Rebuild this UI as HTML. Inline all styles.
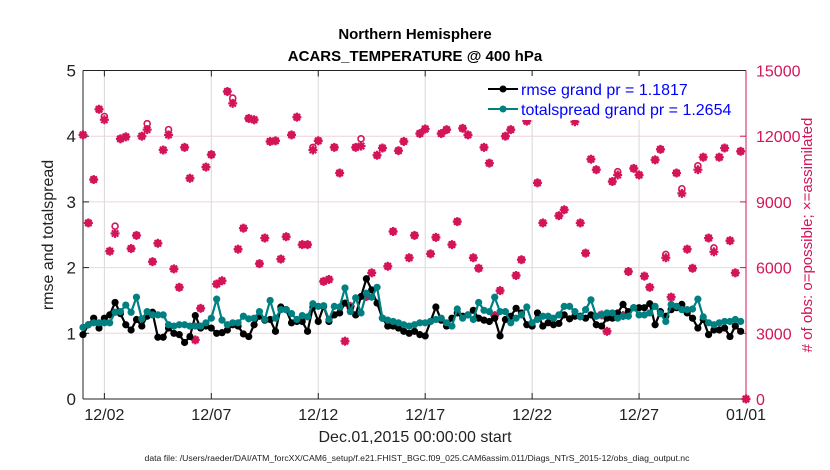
<!DOCTYPE html>
<html><head><meta charset="utf-8"><style>
body{margin:0;background:#fff}
svg{display:block;font-family:"Liberation Sans",Arial,sans-serif}
</style></head><body>
<svg id="chart" width="830" height="470" viewBox="0 0 830 470">
<rect width="830" height="470" fill="#fff"/>
<text x="415" y="39" text-anchor="middle" font-size="15" font-weight="bold">Northern Hemisphere</text>
<text x="415" y="61" text-anchor="middle" font-size="15" font-weight="bold">ACARS_TEMPERATURE @ 400 hPa</text>
<g id="grid"></g>
<g id="axes"></g>
<g id="marks"></g>
<text transform="translate(53,235) rotate(-90)" text-anchor="middle" font-size="16" fill="#222">rmse and totalspread</text>
<text transform="translate(812,235) rotate(-90)" text-anchor="middle" font-size="15" fill="#d41459"># of obs: o=possible; ×=assimilated</text>
<text x="415" y="442" text-anchor="middle" font-size="16" fill="#222">Dec.01,2015 00:00:00 start</text>
<text x="417" y="461" text-anchor="middle" font-size="8.7" fill="#222">data file: /Users/raeder/DAI/ATM_forcXX/CAM6_setup/f.e21.FHIST_BGC.f09_025.CAM6assim.011/Diags_NTrS_2015-12/obs_diag_output.nc</text>
<g>
<rect x="481" y="76" width="225" height="44" fill="#fff"/>
<line x1="488" y1="89" x2="518" y2="89" stroke="#000" stroke-width="2"/>
<circle cx="503" cy="89" r="3.5" fill="#000"/>
<text x="521" y="95" font-size="16" fill="#0000ff">rmse grand pr = 1.1817</text>
<line x1="488" y1="109" x2="518" y2="109" stroke="#008080" stroke-width="2"/>
<circle cx="503" cy="109" r="3.5" fill="#008080"/>
<text x="521" y="115" font-size="16" fill="#0000ff">totalspread grand pr = 1.2654</text>
</g>
</svg>
<script>
const rmse = [0.98,1.13,1.23,1.08,1.23,1.28,1.47,1.30,1.13,1.05,1.21,1.11,1.26,1.32,0.94,0.94,1.08,1.00,0.98,0.86,0.95,1.27,1.08,1.11,1.08,1.00,1.01,1.05,1.13,1.11,
0.99,0.95,1.13,1.26,1.20,1.21,1.03,1.40,1.36,1.16,1.18,1.18,1.03,1.40,1.18,1.41,1.18,1.28,1.31,1.46,1.39,1.28,1.56,1.83,1.66,1.46,1.23,1.11,1.11,1.08,1.03,1.00,
1.03,0.98,0.96,1.18,1.40,1.20,1.11,1.23,1.31,1.26,1.28,1.35,1.23,1.20,1.18,1.23,0.96,1.21,1.26,1.38,1.31,1.13,1.11,1.31,1.11,1.16,1.13,1.15,1.28,1.22,1.26,
1.26,1.23,1.28,1.13,1.11,1.23,1.23,1.31,1.44,1.33,1.39,1.39,1.39,1.45,1.13,1.33,1.26,1.36,1.39,1.44,1.31,1.23,1.08,1.21,0.98,1.05,1.05,1.08,0.95,1.11,1.03];
const spread = [1.09,1.13,1.16,1.16,1.16,1.16,1.32,1.33,1.43,1.32,1.55,1.22,1.33,1.28,1.28,1.28,1.13,1.11,1.13,1.13,1.11,1.11,1.11,1.16,1.23,1.52,1.20,1.13,1.16,1.16,
1.26,1.22,1.23,1.33,1.21,1.50,1.23,1.36,1.36,1.30,1.21,1.27,1.25,1.45,1.41,1.42,1.21,1.41,1.40,1.69,1.33,1.54,1.31,1.61,1.55,1.70,1.23,1.20,1.18,1.16,1.13,1.11,
1.13,1.16,1.16,1.18,1.21,1.23,1.16,1.11,1.37,1.23,1.28,1.21,1.47,1.35,1.33,1.55,1.33,1.33,1.16,1.23,1.28,1.40,1.16,1.21,1.26,1.26,1.23,1.28,1.41,1.41,1.33,
1.25,1.36,1.51,1.26,1.28,1.31,1.31,1.23,1.26,1.26,1.39,1.28,1.28,1.31,1.41,1.30,1.18,1.44,1.41,1.36,1.36,1.37,1.52,1.25,1.16,1.13,1.16,1.18,1.18,1.21,1.18];
const obsAssim = [12060,8040,10020,13230,12750,6750,7560,11880,11970,6870,7470,12000,12300,6270,7110,11370,12060,5940,5100,11490,10080,2700,4140,10590,11160,5250,5400,14040,13500,
6840,7800,12810,12750,6180,7350,11760,11790,6390,7410,12060,12870,7050,7050,11370,11790,5370,5460,11490,10320,2640,4230,11490,11550,4680,5760,11130,11460,6060,7650,11340,11760,
6450,7470,12120,12330,6630,7380,12120,12300,7050,8100,12360,12060,6450,5970,11490,10770,3810,4950,12000,12300,5640,6360,12690,13650,9870,8040,13500,13680,8370,8640,13170,12660,
8040,6660,10950,10470,3840,3090,9930,10230,3810,5820,10530,10230,5610,5100,10920,11400,6450,4650,10320,9390,6840,5970,10470,11040,7350,6720,11040,11460,7230,5760,11310,0];
const obsPoss = [12060,8040,10020,13230,12900,6750,7890,11880,11970,6870,7470,12000,12570,6270,7110,11370,12300,5940,5100,11490,10080,2700,4140,10590,11160,5250,5400,14040,13740,
6840,7800,12810,12750,6180,7350,11760,11790,6390,7410,12060,12870,7050,7050,11490,11790,5370,5460,11490,10320,2640,4230,11490,11880,4680,5760,11130,11460,6060,7650,11340,11760,
6450,7470,12120,12330,6630,7380,12120,12300,7050,8100,12360,12060,6450,5970,11490,10770,3810,4950,12000,12300,5640,6360,12690,13650,9870,8040,13620,13680,8370,8640,13170,12900,
8040,6660,10950,10470,3840,3090,9930,10380,3810,5820,10530,10230,5610,5100,10920,11400,6600,4650,10320,9600,6840,5970,10650,11040,7350,6900,11040,11460,7230,5760,11310,0];
const stepDays = 0.25;
const leftTicks = [0,1,2,3,4,5];
const rightTicks = [0,3000,6000,9000,12000,15000];
const xTickDays = [1,6,11,16,21,26,31];
const xTickLabels = ["12/02","12/07","12/12","12/17","12/22","12/27","01/01"];

const L=83,R=746,T=70.5,B=399,NS="http://www.w3.org/2000/svg";
const xS=d=>L+(d/31)*(R-L);
const yL=v=>B-(v/5)*(B-T);
const yR=v=>B-(v/15000)*(B-T);
const RED="#d41459";
function mk(tag,attrs,parent){const e=document.createElementNS(NS,tag);for(const k in attrs)e.setAttribute(k,attrs[k]);parent.appendChild(e);return e;}
const grid=document.getElementById('grid'),axes=document.getElementById('axes'),marks=document.getElementById('marks');

xTickDays.forEach((d,i)=>{
  const g=mk('line',{x1:xS(d),x2:xS(d),y1:T,y2:B,stroke:'#d8d8d8','stroke-width':1},grid);
  
  
  mk('line',{x1:xS(d),x2:xS(d),y1:B,y2:B-6,stroke:'#222'},axes);
  mk('line',{x1:xS(d),x2:xS(d),y1:T,y2:T+6,stroke:'#222'},axes);
  const t=mk('text',{x:xS(d),y:420,'text-anchor':'middle','font-size':16,fill:'#222'},axes);
  t.textContent=xTickLabels[i];
  
  
});
rightTicks.forEach(v=>{
  const g=mk('line',{x1:L,x2:R,y1:yR(v),y2:yR(v),stroke:'#f0d4de','stroke-width':1},grid);
  
  
  mk('line',{x1:R-6,x2:R,y1:yR(v),y2:yR(v),stroke:RED},axes);
  const t=mk('text',{x:756,y:yR(v)+6,'font-size':16,fill:RED},axes);
  t.textContent=v;
  
  
});
leftTicks.forEach(v=>{
  mk('line',{x1:L,x2:L+6,y1:yL(v),y2:yL(v),stroke:'#222'},axes);
  const t=mk('text',{x:76,y:yL(v)+6,'text-anchor':'end','font-size':17,fill:'#222'},axes);
  t.textContent=v;
  
  
});
mk('line',{x1:L,x2:R,y1:T,y2:T,stroke:'#222'},axes);
mk('line',{x1:L,x2:R,y1:B,y2:B,stroke:'#222'},axes);
mk('line',{x1:L,x2:L,y1:T,y2:B,stroke:'#222'},axes);
mk('line',{x1:R,x2:R,y1:T,y2:B,stroke:RED},axes);

obsPoss.forEach((v,i)=>{
  const c=mk('circle',{cx:xS(i*stepDays),cy:yR(v),r:3,fill:'none',stroke:RED,'stroke-width':1.6},marks);
  
  
});
obsAssim.forEach((v,i)=>{
  const x=xS(i*stepDays),y=yR(v);
  const g=mk('g',{stroke:RED,'stroke-width':2.2},marks);
  
  
  mk('circle',{cx:x,cy:y,r:2.5,fill:RED,stroke:'none'},g);
  mk('line',{x1:x-4.5,x2:x+4.5,y1:y,y2:y},g);
  mk('line',{x1:x,x2:x,y1:y-4.5,y2:y+4.5},g);
  mk('line',{x1:x-3.2,x2:x+3.2,y1:y-3.2,y2:y+3.2},g);
  mk('line',{x1:x-3.2,x2:x+3.2,y1:y+3.2,y2:y-3.2},g);
});
function series(arr,color,name){
  const pts=arr.map((v,i)=>xS(i*stepDays).toFixed(1)+','+yL(v).toFixed(1)).join(' ');
  const p=mk('polyline',{points:pts,fill:'none',stroke:color,'stroke-width':2.2,'stroke-linejoin':'round'},marks);
  
  
  arr.forEach((v,i)=>{
    const c=mk('circle',{cx:xS(i*stepDays),cy:yL(v),r:3.6,fill:color},marks);
    
    
  });
}
series(rmse,'#000','rmse');
series(spread,'#008080','totalspread');
</script>
</body></html>
